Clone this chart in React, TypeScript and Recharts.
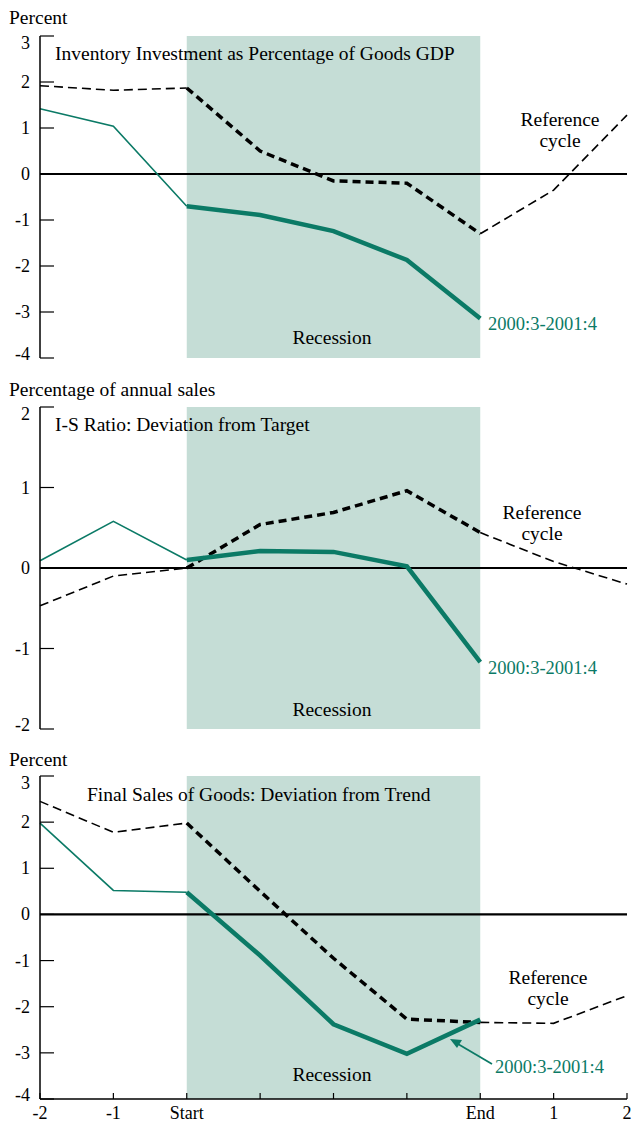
import React from 'react';
import {
  ComposedChart,
  Line,
  XAxis,
  YAxis,
  ReferenceArea,
  ReferenceLine,
} from 'recharts';

// x positions: -2, -1, Start, (3 quarters), End, 1, 2
const xTicks = [0, 1, 2, 3, 4, 5, 6, 7, 8];
const xLabels = ['-2', '-1', 'Start', '', '', '', 'End', '1', '2'];
const recessionStart = 2;
const recessionEnd = 6;

// Inventory investment as % of goods GDP
const invReference = [1.92, 1.82, 1.87, 0.5, -0.15, -0.2, -1.3, -0.35, 1.28];
const invRecent = [1.42, 1.04, -0.7, -0.89, -1.24, -1.87, -3.14];
const invTicks = [-4, -3, -2, -1, 0, 1, 2, 3];

// I-S ratio deviation from target
const isReference = [-0.47, -0.1, 0.0, 0.54, 0.69, 0.96, 0.44, 0.08, -0.2];
const isRecent = [0.09, 0.58, 0.1, 0.21, 0.2, 0.02, -1.17];
const isTicks = [-2, -1, 0, 1, 2];

// Final sales of goods deviation from trend
const salesReference = [2.45, 1.78, 1.98, 0.5, -0.95, -2.27, -2.34, -2.36, -1.76];
const salesRecent = [1.98, 0.52, 0.48, -0.89, -2.38, -3.02, -2.28];
const salesTicks = [-4, -3, -2, -1, 0, 1, 2, 3];

const TEAL = '#0b7a66';
const SHADE = '#c5ddd6';
const FONT = '"Liberation Serif", "Times New Roman", serif';

function buildRows(reference: number[], recent: number[]) {
  return xTicks.map((x, i) => {
    const inRec = x >= recessionStart && x <= recessionEnd;
    const outRec = x <= recessionStart || x >= recessionEnd;
    const g = i < recent.length ? recent[i] : null;
    return {
      x,
      refOut: outRec ? reference[i] : null,
      refIn: inRec ? reference[i] : null,
      recOut: x <= recessionStart ? g : null,
      recIn: inRec ? g : null,
    };
  });
}

interface PanelProps {
  top: number;
  height: number;
  margin: { top: number; right: number; left: number; bottom: number };
  reference: number[];
  recent: number[];
  ticks: number[];
  showLabels: boolean;
}

function Panel({ top, height, margin, reference, recent, ticks, showLabels }: PanelProps) {
  const data = buildRows(reference, recent);
  const lo = ticks[0];
  const hi = ticks[ticks.length - 1];
  const domain: [number, number] = [lo, hi];
  const tickStyle = { fontSize: 18, fontFamily: FONT, fill: '#000' };

  // keep the end labels inside the frame, as in the original
  const yTick = (props: any) => {
    const { x, y, payload } = props;
    let shift = 0;
    if (payload.value === hi) shift = 7;
    if (payload.value === lo) shift = -4;
    return (
      <text x={x} y={y + shift} textAnchor="end" dominantBaseline="central" fontSize={18} fontFamily={FONT} fill="#000">
        {payload.value}
      </text>
    );
  };

  return (
    <div style={{ position: 'absolute', left: 0, top }}>
      <ComposedChart width={639} height={height} data={data} margin={margin}>
        <ReferenceArea x1={recessionStart} x2={recessionEnd} y1={lo} y2={hi} fill={SHADE} fillOpacity={1} stroke="none" />
        <XAxis
          dataKey="x"
          type="number"
          domain={[0, 8]}
          ticks={xTicks}
          tickFormatter={(v: number) => (showLabels ? xLabels[v] : '')}
          tickSize={-6}
          tickMargin={13}
          tick={tickStyle}
          height={showLabels ? 24 : 0}
          axisLine={{ stroke: '#000', strokeWidth: 1.5 }}
          tickLine={{ stroke: '#000', strokeWidth: 1.2 }}
          interval={0}
        />
        <XAxis xAxisId="top" orientation="top" type="number" domain={[0, 8]} tick={false} tickLine={false} height={0} axisLine={{ stroke: '#000', strokeWidth: 1.2 }} />
        <YAxis
          type="number"
          domain={domain}
          ticks={ticks}
          width={40}
          tickSize={-14}
          tickMargin={24}
          tick={yTick}
          axisLine={{ stroke: '#000', strokeWidth: 1.5 }}
          tickLine={{ stroke: '#000', strokeWidth: 1.2 }}
          interval={0}
        />
        <YAxis
          yAxisId="right"
          orientation="right"
          type="number"
          domain={domain}
          ticks={ticks}
          width={0}
          tickSize={-14}
          tickFormatter={() => ''}
          axisLine={{ stroke: '#000', strokeWidth: 1.5 }}
          tickLine={{ stroke: '#000', strokeWidth: 1.2 }}
          interval={0}
        />
        <ReferenceLine y={0} stroke="#000" strokeWidth={2.2} />
        <Line dataKey="refOut" stroke="#000" strokeWidth={1.6} strokeDasharray="9 5" dot={false} isAnimationActive={false} connectNulls={false} />
        <Line dataKey="refIn" stroke="#000" strokeWidth={3.5} strokeDasharray="8 5" dot={false} isAnimationActive={false} connectNulls={false} />
        <Line dataKey="recOut" stroke={TEAL} strokeWidth={1.6} dot={false} isAnimationActive={false} connectNulls={false} />
        <Line dataKey="recIn" stroke={TEAL} strokeWidth={4.5} dot={false} isAnimationActive={false} connectNulls={false} />
      </ComposedChart>
    </div>
  );
}

function Note({ x, y, children, color = '#000', center = false, size = 19.5 }: { x: number; y: number; children: React.ReactNode; color?: string; center?: boolean; size?: number }) {
  return (
    <div
      style={{
        position: 'absolute',
        left: x,
        top: y,
        transform: center ? 'translate(-50%, -50%)' : 'translateY(-50%)',
        fontFamily: FONT,
        fontSize: size,
        lineHeight: '21px',
        color,
        whiteSpace: 'nowrap',
        textAlign: 'center',
      }}
    >
      {children}
    </div>
  );
}

export default function App() {
  return (
    <div style={{ position: 'absolute', left: 0, top: 0, width: 639, height: 1123, background: '#fff', overflow: 'hidden' }}>
      <Panel top={0} height={370} margin={{ top: 36, right: 12, left: 0, bottom: 12 }} reference={invReference} recent={invRecent} ticks={invTicks} showLabels={false} />
      <Panel top={370} height={370} margin={{ top: 37, right: 12, left: 0, bottom: 11 }} reference={isReference} recent={isRecent} ticks={isTicks} showLabels={false} />
      <Panel top={740} height={383} margin={{ top: 36, right: 12, left: 0, bottom: 0 }} reference={salesReference} recent={salesRecent} ticks={salesTicks} showLabels={true} />

      <Note x={9} y={17}>Percent</Note>
      <Note x={55} y={53}>Inventory Investment as Percentage of Goods GDP</Note>
      <Note x={560} y={130} center>Reference<br />cycle</Note>
      <Note x={488} y={324} color={TEAL} size={18.5}>2000:3-2001:4</Note>
      <Note x={332} y={337} center>Recession</Note>

      <Note x={9} y={389}>Percentage of annual sales</Note>
      <Note x={55} y={424}>I-S Ratio: Deviation from Target</Note>
      <Note x={542} y={523} center>Reference<br />cycle</Note>
      <Note x={488} y={668} color={TEAL} size={18.5}>2000:3-2001:4</Note>
      <Note x={332} y={709} center>Recession</Note>

      <Note x={9} y={759}>Percent</Note>
      <Note x={87} y={794}>Final Sales of Goods: Deviation from Trend</Note>
      <Note x={548} y={988} center>Reference<br />cycle</Note>
      <Note x={495} y={1067} color={TEAL} size={18.5}>2000:3-2001:4</Note>
      <Note x={332} y={1074} center>Recession</Note>

      <svg style={{ position: 'absolute', left: 0, top: 0 }} width={639} height={1123} pointerEvents="none">
        <line x1={492} y1={1064} x2={458} y2={1044} stroke={TEAL} strokeWidth={1.8} />
        <polygon points="450,1039 462,1040 457,1048" fill={TEAL} />
      </svg>
    </div>
  );
}
